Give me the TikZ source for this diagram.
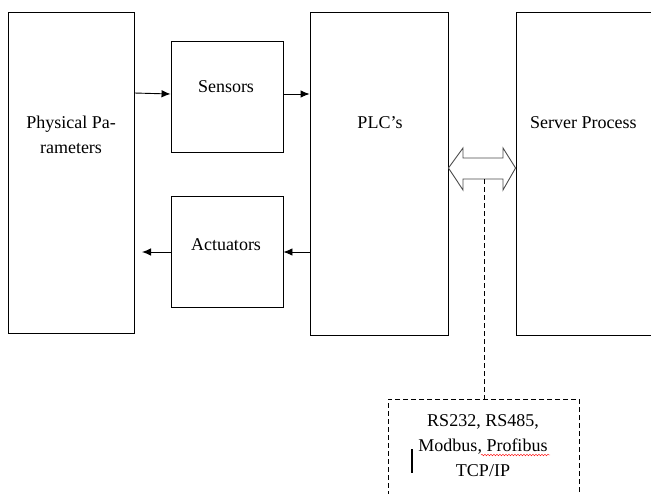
\documentclass[tikz,border=0pt]{standalone}
\usepackage{fontspec}
\setmainfont{Liberation Serif}
\usetikzlibrary{arrows.meta,decorations.pathmorphing}

\begin{document}
\begin{tikzpicture}[x=1pt,y=-1pt,>={Latex[length=9pt,width=7.5pt]},
    blk/.style={draw,line width=0.9pt,inner sep=0pt},
    lbl/.style={font=\fontsize{18}{25}\selectfont,align=center,inner sep=0pt},
    flow/.style={->,line width=0.9pt},
    dsh/.style={line width=0.9pt,dash pattern=on 5pt off 3pt}]
  \useasboundingbox (0,0) rectangle (651,493);
  % boxes
  \node[blk,minimum width=126,minimum height=321] (phys) at (71,172.5) {};
  \node[blk,minimum width=112,minimum height=111] (sens) at (227,96.5) {};
  \node[blk,minimum width=112,minimum height=111] (act) at (227,252) {};
  \node[blk,minimum width=138,minimum height=323] (plc) at (379,173.5) {};
  \node[blk,minimum width=150,minimum height=323] (srv) at (591,173.5) {};
  % labels
  \node[lbl] (physT) at (71,135) {Physical Pa-\\rameters};
  \node[lbl] (sensT) at (226,87) {Sensors};
  \node[lbl] (actT) at (226,245) {Actuators};
  \node[lbl] (plcT) at (380,123) {PLC's};
  \node[lbl,anchor=west] (srvT) at (530,123) {Server Process};
  % arrows
  \draw[flow] (phys.east |- 0,93) -- (sens.west |- 0,94);
  \draw[flow] (sens.east |- 0,94) -- (plc.west |- 0,94);
  \draw[flow] (plc.west |- 0,252) -- (act.east |- 0,252);
  \coordinate (actL) at (142,252);
  \draw[flow] (act.west |- 0,252) -- (actL);
  % hollow double arrow
  \draw[line width=0.9pt,draw=black!70,fill=white]
    (plc.east |- 0,168) -- (463,148) -- (463,158) -- (503,158) -- (503,148)
    -- (srv.west |- 0,168) -- (503,190) -- (503,179) -- (463,179) -- (463,190) -- cycle;
  % bus box
  \coordinate (bus) at (484,179);
  \node[draw,dsh,minimum width=191,minimum height=110,inner sep=0pt] (busbox) at (483.5,454) {};
  \draw[dsh] (bus) -- (bus |- busbox.north);
  \node[lbl] (busT) at (483,446) {RS232, RS485,\\Modbus, Profibus\\TCP/IP};
  \draw[red,line width=0.4pt,decorate,decoration={snake,amplitude=0.8pt,segment length=3pt}] (481,455) -- (550,455);
  \draw[line width=2pt] (412,449) -- (412,473);
\end{tikzpicture}
\end{document}
